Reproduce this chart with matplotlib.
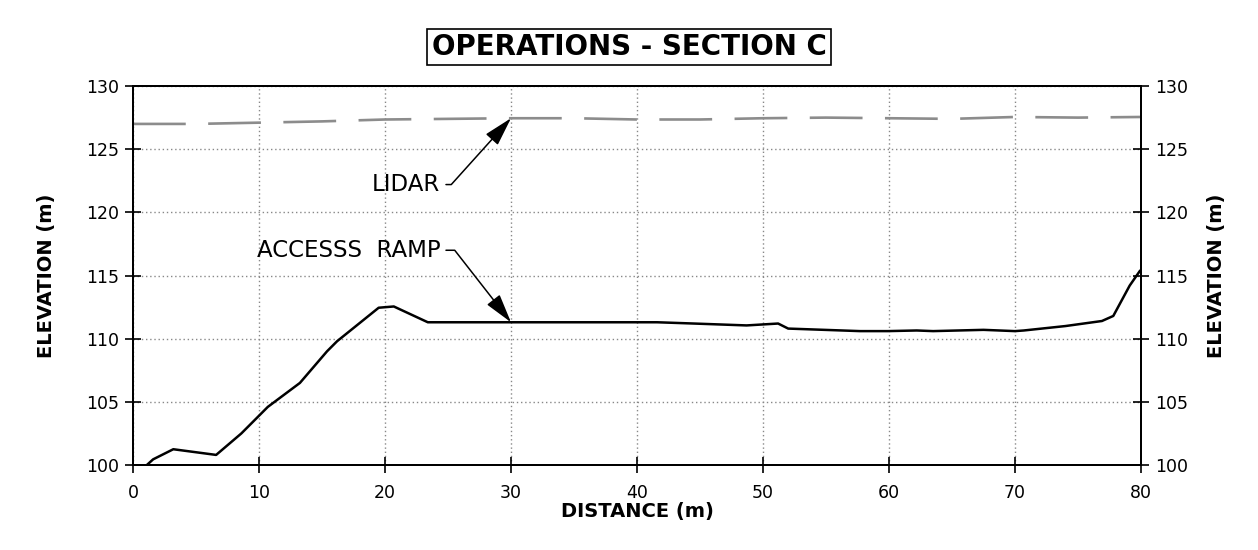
import matplotlib
matplotlib.use("Agg")
import matplotlib.pyplot as plt

# data
ramp_x = [1.1, 1.6, 3.2, 6.6, 8.6, 10.7, 13.25, 15.4, 16.2, 19.5, 20.7, 23.4, 29.9,
          36.0, 41.6, 44.5, 48.7, 51.2, 52.0, 57.7, 59.9, 62.2, 63.5, 67.5, 70.0,
          70.7, 74.0, 76.9, 77.8, 79.1, 79.9]
ramp_y = [100.0, 100.45, 101.25, 100.8, 102.5, 104.6, 106.5, 109.0, 109.8, 112.45,
          112.55, 111.3, 111.3, 111.3, 111.3, 111.2, 111.05, 111.2, 110.8, 110.6,
          110.6, 110.65, 110.6, 110.7, 110.6, 110.65, 111.0, 111.4, 111.8, 114.2, 115.35]

lidar_x = [0, 5, 10, 15, 20, 25, 30, 35, 40, 45, 50, 55, 60, 65, 70, 75, 80]
lidar_y = [127.0, 127.0, 127.1, 127.2, 127.35, 127.4, 127.45, 127.45, 127.35, 127.35,
           127.45, 127.5, 127.45, 127.4, 127.55, 127.5, 127.55]

x_ticks = [0, 10, 20, 30, 40, 50, 60, 70, 80]
y_ticks = [100, 105, 110, 115, 120, 125, 130]

plt.rcParams['font.family'] = ['DejaVu Sans']

fig = plt.figure(figsize=(12.58, 5.5), dpi=100)
ax = fig.add_axes([0.1057, 0.1545, 0.8013, 0.6891])

ax.plot(lidar_x, lidar_y, color='#8c8c8c', lw=1.9, dashes=(20, 8.5))
ax.plot(ramp_x, ramp_y, color='black', lw=1.8)

ax.set_xlim(0, 80)
ax.set_ylim(100, 130)
ax.set_xticks(x_ticks)
ax.set_yticks(y_ticks)
ax.grid(True, color='#888888', linestyle=(0, (1, 2)), lw=1.0)

ax2 = ax.twinx()
ax2.set_ylim(100, 130)
ax2.set_yticks(y_ticks)

for a in (ax, ax2):
    a.tick_params(direction='inout', length=12, width=1.2, labelsize=12.5, pad=4)
    for s in a.spines.values():
        s.set_linewidth(1.4)
ax.tick_params(axis='x', pad=8)

ax.set_xlabel('DISTANCE (m)', fontsize=14, fontweight='bold', labelpad=0)
ax.set_ylabel('ELEVATION (m)', fontsize=14, fontweight='bold', labelpad=22)
ax2.set_ylabel('ELEVATION (m)', fontsize=14, fontweight='bold', labelpad=14)

fig.text(0.5, 0.915, 'OPERATIONS - SECTION C', ha='center', va='center',
         fontsize=20, fontweight='bold',
         bbox=dict(boxstyle='square,pad=0.15', fc='white', ec='black', lw=1.2))

arrow = dict(arrowstyle='-|>,head_length=0.9,head_width=0.25', color='black',
             lw=1.1, mutation_scale=20, shrinkA=2, shrinkB=0, relpos=(1, 0.5))
ax.annotate('LIDAR', xy=(30, lidar_y[6]), xytext=(24.4, 122.2),
            ha='right', va='center', fontsize=16.5,
            arrowprops=dict(arrow, connectionstyle='angle,angleA=0,angleB=48,rad=0'))
ax.annotate('ACCESSS  RAMP', xy=(30, 111.3), xytext=(24.4, 117.0),
            ha='right', va='center', fontsize=16.5,
            arrowprops=dict(arrow, connectionstyle='angle,angleA=0,angleB=-52,rad=0'))

fig.savefig('out.png', dpi=100)
